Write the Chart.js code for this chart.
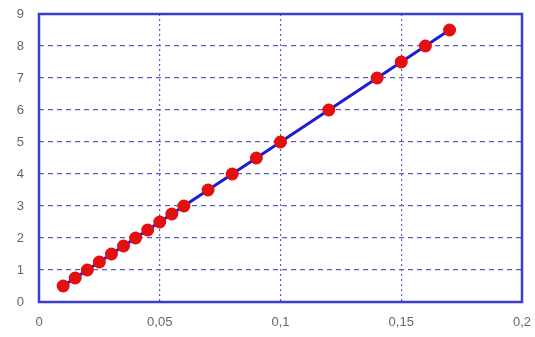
<!DOCTYPE html>
<html>
<head>
<meta charset="utf-8">
<script src="https://cdn.jsdelivr.net/npm/chart.js@4"></script>
<style>
  html, body { margin: 0; padding: 0; background: #fff; }
  #wrap { width: 535px; height: 337px; }
</style>
</head>
<body>
<div id="wrap"><canvas id="chart"></canvas></div>
<script>
// values
const xValues = [0.01, 0.015, 0.02, 0.025, 0.03, 0.035, 0.04, 0.045, 0.05, 0.055, 0.06, 0.07, 0.08, 0.09, 0.1, 0.12, 0.14, 0.15, 0.16, 0.17];
const yValues = [0.5, 0.75, 1, 1.25, 1.5, 1.75, 2, 2.25, 2.5, 2.75, 3, 3.5, 4, 4.5, 5, 6, 7, 7.5, 8, 8.5];
const xTickLabels = ["0", "0,05", "0,1", "0,15", "0,2"];
const yTickLabels = ["0", "1", "2", "3", "4", "5", "6", "7", "8", "9"];

const points = xValues.map((x, i) => ({ x: x, y: yValues[i] }));

// frame around the plot area
const frame = {
    id: "frame",
    afterDatasetsDraw(chart) {
        const a = chart.chartArea;
        const ctx = chart.ctx;
        ctx.save();
        ctx.strokeStyle = "#3b3bd0";
        ctx.lineWidth = 2.5;
        ctx.strokeRect(a.left, a.top, a.right - a.left, a.bottom - a.top);
        ctx.restore();
    }
};

function noPad(scale) {
    scale.paddingTop = 0;
    scale.paddingBottom = 0;
    scale.paddingLeft = 0;
    scale.paddingRight = 0;
}

new Chart(document.getElementById("chart"), {
    type: "scatter",
    data: {
        datasets: [{
            data: points,
            showLine: true,
            borderColor: "#1c1cd4",
            borderWidth: 3,
            pointRadius: 6.5,
            pointBackgroundColor: "#e41010",
            pointBorderColor: "#e41010",
            pointBorderWidth: 0
        }]
    },
    options: {
        responsive: true,
        maintainAspectRatio: false,
        animation: false,
        layout: { padding: { top: 14, right: 13, left: 0, bottom: 0 } },
        plugins: { legend: { display: false }, tooltip: { enabled: false } },
        scales: {
            x: {
                type: "linear",
                min: 0,
                max: 0.2,
                afterBuildTicks: (scale) => {
                    scale.ticks = xTickLabels.map((t, i) => ({ value: i * 0.05 }));
                },
                afterFit: (scale) => { scale.height = 35; noPad(scale); },
                ticks: {
                    color: "#666",
                    font: { family: "Liberation Sans", size: 13 },
                    padding: 13,
                    maxRotation: 0,
                    callback: (v, i) => xTickLabels[i]
                },
                grid: {
                    color: "#5c5cc8",
                    lineWidth: 1.2,
                    drawTicks: false
                },
                border: { display: false, dash: [2, 3] }
            },
            y: {
                min: 0,
                max: 9,
                afterBuildTicks: (scale) => {
                    scale.ticks = yTickLabels.map((t, i) => ({ value: i }));
                },
                afterFit: (scale) => { scale.width = 39; noPad(scale); },
                ticks: {
                    color: "#666",
                    font: { family: "Liberation Sans", size: 13 },
                    padding: 15,
                    callback: (v, i) => yTickLabels[i]
                },
                grid: {
                    color: "#5c5cc8",
                    lineWidth: 1.2,
                    drawTicks: false
                },
                border: { display: false, dash: [5, 4] }
            }
        }
    },
    plugins: [frame]
});
</script>
</body>
</html>
